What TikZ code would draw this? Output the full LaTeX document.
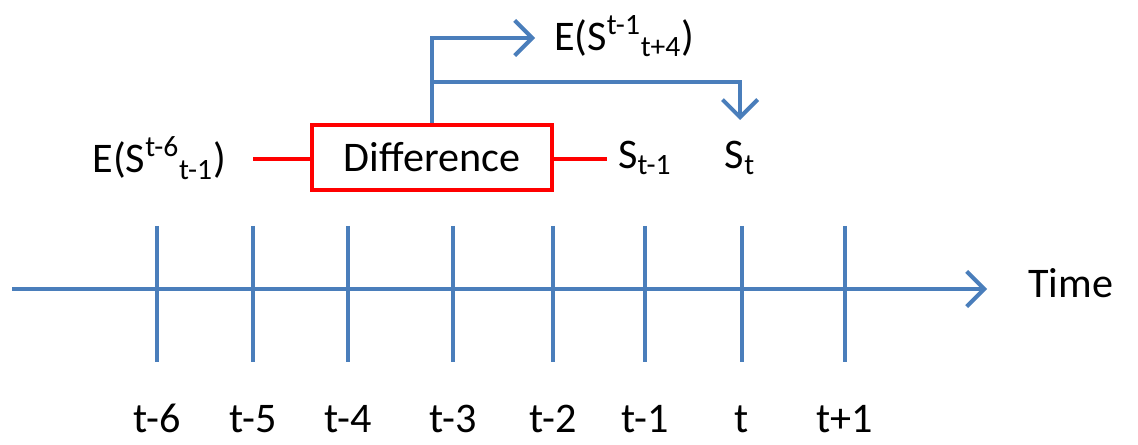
\documentclass[tikz,border=0pt]{standalone}
\usepackage{xcolor}
\usepackage{fontspec}
\setmainfont{Carlito}
\usetikzlibrary{arrows.meta}

\definecolor{lineblue}{HTML}{4A7EBB}

\begin{document}
\begin{tikzpicture}[x=0.02cm,y=-0.02cm,
    font=\fontsize{24}{28}\selectfont,
    blueline/.style={lineblue,line width=2.3pt},
    redline/.style={red,line width=2.3pt},
    barb/.style={-{Straight Barb[length=10pt,width=20pt,line width=2.3pt]}}]
    \useasboundingbox (0,0) rectangle (1138,445);

    % 定义时间轴的点
    \coordinate (ax0) at (12,289);
    \coordinate (ax1) at (987,289);

    % 时间轴
    \draw[blueline,barb] (ax0) -- (ax1);
    \node[anchor=west] (time) at (1022,283) {Time};

    % 刻度线和标签
    \foreach \x/\lab [count=\i] in {157/t-6,253/t-5,348/t-4,453/t-3,553/t-2,645/t-1,742/t,845/t+1}{
        \coordinate (top\i) at (\x,226);
        \coordinate (bot\i) at (\x,362);
        \draw[blueline] (top\i) -- (bot\i);
        \node[anchor=base,inner sep=1pt] (lab\i) at (\x,432) {\lab};
    }

    % Difference 方框
    \node[draw=red,line width=2.3pt,minimum width=4.8cm,minimum height=1.3cm,inner sep=0pt]
        (diff) at (432,157.5) {Difference};
    \node[anchor=east] (left) at (232,158) {E(S\textsuperscript{t-6}\textsubscript{t-1})};
    \node[anchor=west] (sprev) at (612,158) {S\textsubscript{t-1}};
    \node (snow) at (740,158) {S\textsubscript{t}};
    \node[anchor=west] (pred) at (548,36) {E(S\textsuperscript{t-1}\textsubscript{t+4})};

    \coordinate (lredend) at (253,159);
    \coordinate (rredend) at (607,159);
    \draw[redline] (lredend) -- (diff.west |- lredend);
    \draw[redline] (diff.east |- rredend) -- (rredend);

    % 蓝色箭头
    \coordinate (up) at (432,38);
    \coordinate (branch) at (432,82);
    \coordinate (predtip) at (535,38);
    \coordinate (corner) at (740,82);
    \coordinate (sttip) at (740,120);
    \draw[blueline,barb] (diff.north) -- (up) -- (predtip);
    \draw[blueline,barb] (branch) -- (corner) -- (sttip);

\end{tikzpicture}
\end{document}
